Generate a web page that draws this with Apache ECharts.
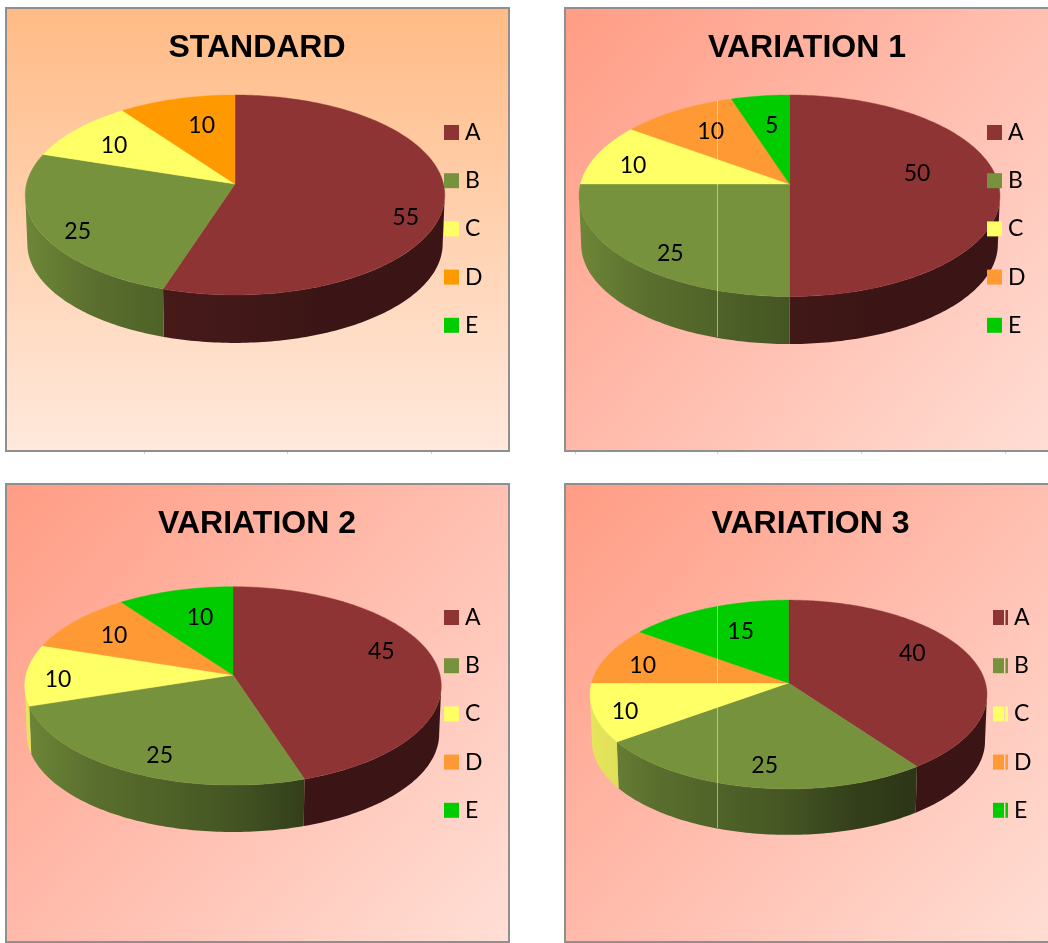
<!DOCTYPE html>
<html>
<head>
<meta charset="utf-8">
<title>Pie chart variations</title>
<style>
  html, body { margin: 0; padding: 0; background: #ffffff; overflow: hidden; }
  #chart { width: 1048px; height: 943px; }
</style>
<script src="https://cdn.jsdelivr.net/npm/echarts@6/dist/echarts.min.js"></script>
</head>
<body>
<div id="chart"></div>
<script>
// Share of each category, one entry per panel.
const categories = ['A', 'B', 'C', 'D', 'E'];
const panelTitles = ['STANDARD', 'VARIATION 1', 'VARIATION 2', 'VARIATION 3'];
const valuesA = [55, 50, 45, 40];
const valuesB = [25, 25, 25, 25];
const valuesC = [10, 10, 10, 10];
const valuesD = [10, 10, 10, 10];
const valuesE = [0, 5, 10, 15];
const seriesValues = [valuesA, valuesB, valuesC, valuesD, valuesE];

// Slice colours; the standard panel uses a purer orange for D.
const sliceColors = ['#8F3434', '#76923C', '#FFFF66', '#FF9933', '#00CC00'];
const standardColors = ['#8F3434', '#76923C', '#FFFF66', '#FF9900', '#00CC00'];

// Panel frames and the projected pie inside each one.
const panels = [
  { x: 6,   y: 8,   w: 503, h: 443, cx: 235,   cy: 184, a: 208.5, b: 98.8, p: 0.11,  depth: 49,   legendX: 444, legendY: 121, titleX: 257, titleY: 48 },
  { x: 565, y: 8,   w: 503, h: 443, cx: 789.5, cy: 184, a: 209,   b: 99.4, p: 0.117, depth: 48.6, legendX: 987, legendY: 121, titleX: 807, titleY: 48 },
  { x: 6,   y: 484, w: 503, h: 458, cx: 233,   cy: 675, a: 207,   b: 98,   p: 0.11,  depth: 48,   legendX: 444, legendY: 606, titleX: 257, titleY: 524 },
  { x: 565, y: 484, w: 503, h: 458, cx: 788.5, cy: 683, a: 197,   b: 93,   p: 0.122, depth: 47,   legendX: 993, legendY: 606, titleX: 810.5, titleY: 524 }
];

// Value label centres relative to each pie's apex: panel, then category.
const labelSpots = [
  [[170.7, 34], [-157.3, 47.7], [-121, -38.3], [-33.3, -58], null],
  [[127.5, -10], [-119.2, 69.3], [-156.5, -18], [-78.8, -52.3], [-17.8, -58]],
  [[148.3, -23.3], [-73.3, 80.7], [-175, 4.7], [-119, -39.3], [-33, -57]],
  [[123.8, -29], [-23.8, 82.7], [-163.5, 29], [-145.8, -17.3], [-47.8, -51.3]]
];

// Brightness of the rim across the pie's width, as [position, factor].
const rimShadeA = [[0, 0.8], [0.16, 0.66], [0.3, 0.5], [0.5, 0.46], [0.7, 0.41], [1, 0.41]];
const rimShadeB = [[0, 0.92], [0.16, 0.76], [0.33, 0.67], [0.5, 0.58], [0.67, 0.43], [0.8, 0.38], [1, 0.38]];
const rimShadeLight = [[0, 0.9], [0.2, 0.82], [1, 0.7]];
const rimShades = [rimShadeA, rimShadeB, rimShadeLight, rimShadeLight, rimShadeLight];

const BOTTOM_SCALE = 0.99;

function shade(hex, factor) {
  const n = parseInt(hex.slice(1), 16);
  const c = [(n >> 16) & 255, (n >> 8) & 255, n & 255].map(v => Math.round(v * factor));
  return 'rgb(' + c.join(',') + ')';
}

// Perspective projection of a disc point; angle runs clockwise from twelve o'clock.
function project(panel, angle, radius, lowered) {
  const u = radius * Math.sin(angle);
  const v = radius * Math.cos(angle);
  const q = 1 + panel.p * v;
  const s = lowered ? BOTTOM_SCALE : 1;
  return [
    panel.cx + s * panel.a * u / q,
    panel.cy + (lowered ? panel.depth : 0) - s * panel.b * v / q
  ];
}

function arcPoints(panel, from, to, lowered) {
  const steps = Math.max(2, Math.ceil((to - from) / (Math.PI / 180)));
  const pts = [];
  for (let i = 0; i <= steps; i++) {
    pts.push(project(panel, from + (to - from) * i / steps, 1, lowered));
  }
  return pts;
}

function renderSlice(catIndex) {
  return function (params, api) {
    const panelIndex = api.value(0);
    const value = api.value(1);
    if (!value) return { type: 'group', children: [] };
    const panel = panels[panelIndex];
    const total = seriesValues.reduce((sum, arr) => sum + arr[panelIndex], 0);
    let before = 0;
    for (let i = 0; i < catIndex; i++) before += seriesValues[i][panelIndex];
    const from = before / total * 2 * Math.PI;
    const to = (before + value) / total * 2 * Math.PI;
    const color = (panelIndex === 0 ? standardColors : sliceColors)[catIndex];

    const children = [];

    // The rim only exists on the camera-facing stretch of the circle.
    const edge = Math.acos(-panel.p);
    const rimFrom = Math.max(from, edge);
    const rimTo = Math.min(to, 2 * Math.PI - edge);
    if (rimTo > rimFrom) {
      const upperRim = arcPoints(panel, rimFrom, rimTo, false);
      const lowerRim = arcPoints(panel, rimFrom, rimTo, true);
      children.push({
        type: 'polygon', z2: 1,
        shape: { points: upperRim.concat(lowerRim.reverse()) },
        style: {
          fill: {
            type: 'linear', global: true,
            x: panel.cx - panel.a, y: 0, x2: panel.cx + panel.a, y2: 0,
            colorStops: rimShades[catIndex].map(s => ({ offset: s[0], color: shade(color, s[1]) }))
          }
        }
      });
    }

    children.push({
      type: 'polygon', z2: 10,
      shape: { points: [[panel.cx, panel.cy]].concat(arcPoints(panel, from, to, false)) },
      style: { fill: color, stroke: color, lineWidth: 0.4 }
    });

    const spot = labelSpots[panelIndex][catIndex];
    children.push({
      type: 'text', z2: 20,
      style: {
        text: String(value),
        x: panel.cx + spot[0], y: panel.cy + spot[1],
        align: 'center', verticalAlign: 'middle',
        fill: '#000000', font: '23px Lato'
      }
    });
    return { type: 'group', children: children };
  };
}

const series = categories.map((name, catIndex) => ({
  type: 'custom',
  name: name,
  coordinateSystem: 'none',
  renderItem: renderSlice(catIndex),
  silent: true,
  animation: false,
  data: seriesValues[catIndex].map((v, panelIndex) => [panelIndex, v])
}));

const legends = panels.map((panel, panelIndex) => ({
  orient: 'vertical',
  left: panel.legendX,
  top: panel.legendY,
  padding: 0,
  icon: 'rect',
  itemWidth: 15,
  itemHeight: 15,
  itemGap: 25.2,
  selectedMode: false,
  textStyle: { fontFamily: 'Lato', fontSize: 23, color: '#000000', lineHeight: 22, padding: [0, 0, 0, 1] },
  data: categories.map((name, i) => ({
    name: name,
    itemStyle: { color: (panelIndex === 0 ? standardColors : sliceColors)[i] }
  }))
}));

const titles = panels.map((panel, i) => ({
  text: panelTitles[i],
  left: panel.titleX,
  top: panel.titleY - 18,
  padding: 0,
  textAlign: 'center',
  textStyle: { fontFamily: 'Liberation Sans', fontWeight: 'bold', fontSize: 32, color: '#000000', lineHeight: 36 }
}));

// Panel backgrounds: a vertical wash for the standard panel, diagonal for the others.
const frames = panels.map((panel, i) => ({
  type: 'rect',
  z: -10,
  silent: true,
  shape: { x: panel.x, y: panel.y, width: panel.w, height: panel.h },
  style: {
    fill: i === 0
      ? { type: 'linear', x: 0, y: 0, x2: 0, y2: 1, colorStops: [{ offset: 0, color: '#FFBB85' }, { offset: 1, color: '#FFE9DD' }] }
      : { type: 'linear', x: 0, y: 0, x2: 1, y2: 1, colorStops: [{ offset: 0, color: '#FF9C84' }, { offset: 0.5, color: '#FFBDAE' }, { offset: 1, color: '#FFDFD6' }] },
    stroke: '#8F8F8F',
    lineWidth: 2
  }
}));

// Page grid lines that show through the right-hand panels and below the upper row.
const gridTrace = [];
[[717.5, 100, 337], [717.5, 606, 828]].forEach(([x, y1, y2]) => {
  gridTrace.push({
    type: 'line', z: 50, silent: true,
    shape: { x1: x, y1: y1, x2: x, y2: y2 },
    style: { stroke: 'rgba(255,235,205,0.55)', lineWidth: 1 }
  });
});
[610, 658, 706, 755, 803].forEach(y => {
  gridTrace.push({
    type: 'rect', z: 50, silent: true,
    shape: { x: 1004, y: y, width: 1.4, height: 15 },
    style: { fill: '#FFD0C4' }
  });
});
[144, 287, 431, 575, 717, 861, 1005].forEach(x => {
  gridTrace.push({
    type: 'line', z: 50, silent: true,
    shape: { x1: x + 0.5, y1: 452, x2: x + 0.5, y2: 454 },
    style: { stroke: '#D0D0D0', lineWidth: 1 }
  });
});

const chart = echarts.init(document.getElementById('chart'), null, { renderer: 'canvas' });
chart.setOption({
  backgroundColor: '#ffffff',
  animation: false,
  title: titles,
  legend: legends,
  graphic: { elements: frames.concat(gridTrace) },
  series: series
});
</script>
</body>
</html>
